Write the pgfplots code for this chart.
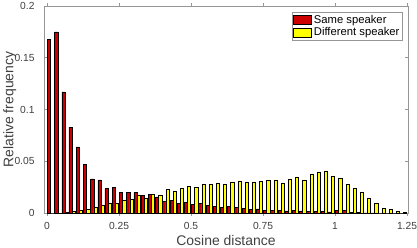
\documentclass[border=0pt]{standalone}
\usepackage{pgfplots}
\usepackage{pgfplotstable}
\pgfplotsset{compat=1.18}
\usepackage{fontspec}
\setmainfont{Liberation Sans}
\definecolor{samered}{RGB}{204,0,0}
\definecolor{diffyel}{RGB}{255,255,0}
\definecolor{axgray}{RGB}{150,150,150}
\definecolor{lblgray}{RGB}{64,64,64}

\pgfplotstableread{
x same diff
0.0125 0.168 0.0
0.0375 0.175 0.0002
0.0625 0.117 0.0005
0.0875 0.083 0.0016
0.1125 0.064 0.0026
0.1375 0.047 0.0038
0.1625 0.033 0.0055
0.1875 0.032 0.0073
0.2125 0.0235 0.0093
0.2375 0.025 0.0096
0.2625 0.0198 0.0126
0.2875 0.020 0.0134
0.3125 0.020 0.0176
0.3375 0.017 0.0144
0.3625 0.018 0.0177
0.3875 0.0155 0.0174
0.4125 0.011 0.023
0.4375 0.012 0.0214
0.4625 0.009 0.024
0.4875 0.0103 0.0258
0.5125 0.008 0.0246
0.5375 0.009 0.028
0.5625 0.0072 0.0274
0.5875 0.0061 0.029
0.6125 0.0055 0.028
0.6375 0.0065 0.030
0.6625 0.0052 0.031
0.6875 0.0042 0.030
0.7125 0.0035 0.030
0.7375 0.0039 0.0306
0.7625 0.0026 0.032
0.7875 0.0023 0.032
0.8125 0.0023 0.029
0.8375 0.0020 0.033
0.8625 0.0026 0.035
0.8875 0.0020 0.032
0.9125 0.0013 0.037
0.9375 0.0013 0.0397
0.9625 0.0013 0.0406
0.9875 0.0010 0.0358
1.0125 0.0023 0.0339
1.0375 0.0023 0.028
1.0625 0.0006 0.0239
1.0875 0.0003 0.020
1.1125 0.0002 0.0139
1.1375 0.0001 0.0097
1.1625 0.0 0.0045
1.1875 0.0 0.0035
1.2125 0.0 0.0013
1.2375 0.0 0.0010
}\hist

\begin{document}
\begin{tikzpicture}
\begin{axis}[
  name=ax,
  at={(0,0)}, anchor=south west,
  scale only axis,
  width=364bp, height=207bp,
  xmin=-0.0104, xmax=1.2535,
  ymin=0, ymax=0.2,
  xtick={0,0.25,0.5,0.75,1,1.25},
  xticklabels={0,0.25,0.5,0.75,1,1.25},
  ytick={0,0.05,0.1,0.15,0.2},
  yticklabels={0,0.05,0.1,0.15,0.2},
  tick align=inside,
  major tick length=3bp,
  axis line style={axgray, line width=0.6bp},
  tick style={axgray, line width=0.6bp},
  ticklabel style={lblgray, font=\fontsize{10.3}{12}\selectfont},
  xticklabel style={yshift=-2.5bp},
  yticklabel style={xshift=-6bp},
  xlabel={Cosine distance},
  ylabel={Relative frequency},
  label style={lblgray, font=\fontsize{14}{16}\selectfont},
  xlabel style={at={(axis description cs:0.5,-0.1546)}, anchor=base},
  ylabel style={at={(axis description cs:-0.0843,0.5)}, anchor=base},
  ybar,
  bar width=0.0110,
  legend cell align=left,
  legend style={at={(1,1)}, anchor=north east, xshift=-5.3bp, yshift=-5.7bp,
    draw=axgray, line width=0.5bp, inner sep=1bp, row sep=-1bp,
    font=\fontsize{11.3}{13}\selectfont, text=black},
  legend image code/.code={\draw[#1, line width=0.5bp] (0bp,-4.6bp) rectangle (18bp,4.6bp);},
]
\addplot[fill=samered, draw=black, line width=0.5bp, bar shift=-0.0056] table[x=x, y=same] {\hist};
\addplot[fill=diffyel, draw=black, line width=0.5bp, bar shift=0.0056] table[x=x, y=diff] {\hist};
\legend{Same speaker, Different speaker}
\end{axis}
\pgfresetboundingbox
\path[use as bounding box] (ax.south west) ++(-44bp,-35bp) rectangle ++(417bp,248bp);
\end{tikzpicture}
\end{document}
